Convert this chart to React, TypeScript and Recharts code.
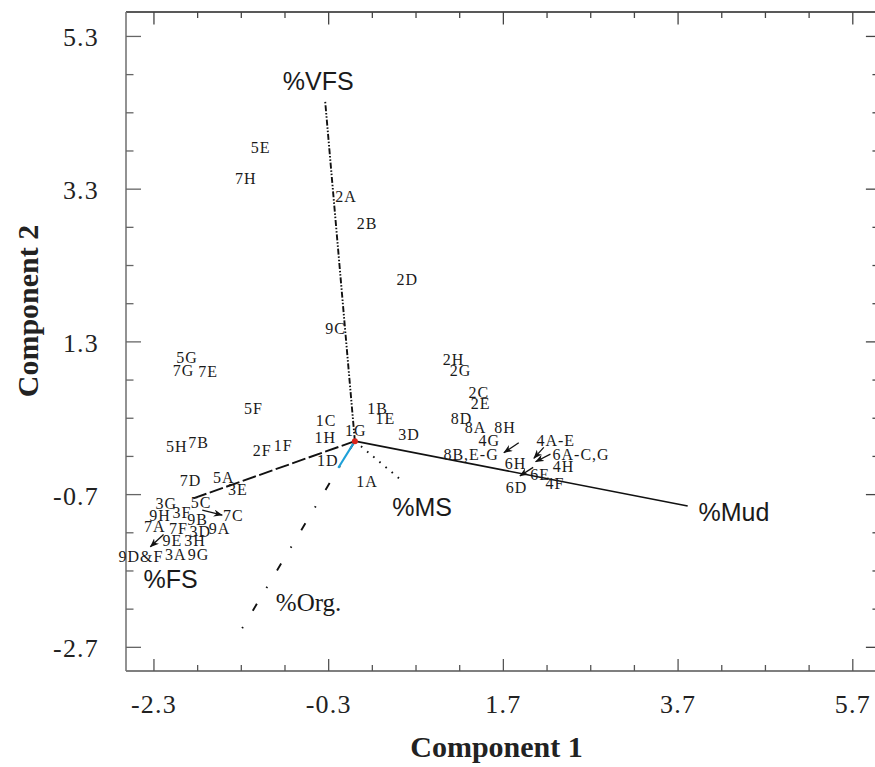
import React from 'react';
import { ScatterChart, Scatter, XAxis, YAxis, ReferenceLine } from 'recharts';

// ---------- axis ticks ----------
const X_TICKS = [-2.3, -1.8, -1.3, -0.8, -0.3, 0.2, 0.7, 1.2, 1.7, 2.2, 2.7, 3.2, 3.7, 4.2, 4.7, 5.2, 5.7];
const X_MAJOR = [-2.3, -0.3, 1.7, 3.7, 5.7];
const Y_TICKS = [-2.7, -2.2, -1.7, -1.2, -0.7, -0.2, 0.3, 0.8, 1.3, 1.8, 2.3, 2.8, 3.3, 3.8, 4.3, 4.8, 5.3];
const Y_MAJOR = [-2.7, -0.7, 1.3, 3.3, 5.3];
const X_DOMAIN = [-2.62, 6.0];
const Y_DOMAIN = [-3.01, 5.62];

// ---------- sample scores (labels) ----------
const SITE_1 = [
  { label: '1A', x: 0.14, y: -0.53 },
  { label: '1B', x: 0.26, y: 0.43 },
  { label: '1C', x: -0.33, y: 0.27 },
  { label: '1D', x: -0.31, y: -0.25 },
  { label: '1E', x: 0.35, y: 0.29 },
  { label: '1F', x: -0.82, y: -0.06 },
  { label: '1G', x: 0.01, y: 0.14 },
  { label: '1H', x: -0.34, y: 0.05 },
];
const SITE_2 = [
  { label: '2A', x: -0.1, y: 3.2 },
  { label: '2B', x: 0.14, y: 2.85 },
  { label: '2C', x: 1.42, y: 0.63 },
  { label: '2D', x: 0.6, y: 2.11 },
  { label: '2E', x: 1.44, y: 0.49 },
  { label: '2F', x: -1.06, y: -0.12 },
  { label: '2G', x: 1.21, y: 0.93 },
  { label: '2H', x: 1.13, y: 1.07 },
];
const SITE_3 = [
  { label: '3A', x: -2.05, y: -1.49 },
  { label: '3D', x: 0.62, y: 0.09 },
  { label: '3D', x: -1.77, y: -1.18 },
  { label: '3E', x: -1.34, y: -0.63 },
  { label: '3F', x: -1.98, y: -0.93 },
  { label: '3G', x: -2.16, y: -0.82 },
  { label: '3H', x: -1.83, y: -1.3 },
];
const SITE_4 = [
  { label: '4A-E', x: 2.3, y: 0.01 },
  { label: '4F', x: 2.29, y: -0.56 },
  { label: '4G', x: 1.54, y: 0.01 },
  { label: '4H', x: 2.39, y: -0.33 },
];
const SITE_5 = [
  { label: '5A', x: -1.5, y: -0.48 },
  { label: '5C', x: -1.76, y: -0.81 },
  { label: '5E', x: -1.08, y: 3.85 },
  { label: '5F', x: -1.16, y: 0.42 },
  { label: '5G', x: -1.92, y: 1.09 },
  { label: '5H', x: -2.04, y: -0.07 },
];
const SITE_6 = [
  { label: '6A-C,G', x: 2.59, y: -0.18 },
  { label: '6D', x: 1.85, y: -0.61 },
  { label: '6E', x: 2.12, y: -0.44 },
  { label: '6H', x: 1.84, y: -0.3 },
];
const SITE_7 = [
  { label: '7A', x: -2.29, y: -1.12 },
  { label: '7B', x: -1.79, y: -0.02 },
  { label: '7C', x: -1.39, y: -0.98 },
  { label: '7D', x: -1.88, y: -0.52 },
  { label: '7E', x: -1.68, y: 0.91 },
  { label: '7F', x: -2.02, y: -1.14 },
  { label: '7G', x: -1.96, y: 0.92 },
  { label: '7H', x: -1.25, y: 3.44 },
];
const SITE_8 = [
  { label: '8A', x: 1.38, y: 0.18 },
  { label: '8B,E-G', x: 1.33, y: -0.17 },
  { label: '8D', x: 1.22, y: 0.3 },
  { label: '8H', x: 1.72, y: 0.18 },
];
const SITE_9 = [
  { label: '9A', x: -1.55, y: -1.14 },
  { label: '9B', x: -1.8, y: -1.03 },
  { label: '9C', x: -0.22, y: 1.47 },
  { label: '9D&F', x: -2.45, y: -1.51 },
  { label: '9E', x: -2.09, y: -1.3 },
  { label: '9G', x: -1.79, y: -1.48 },
  { label: '9H', x: -2.23, y: -0.97 },
];
const SITES = [SITE_1, SITE_2, SITE_3, SITE_4, SITE_5, SITE_6, SITE_7, SITE_8, SITE_9];

// ---------- variable loadings (vectors) ----------
const VECTOR_NAMES = ['%VFS', '%Mud', '%MS', '%FS', '%Org.'];
const VECTOR_X = [-0.34, 3.81, 0.52, -1.85, -1.29];
const VECTOR_Y = [4.45, -0.85, -0.5, -0.75, -2.45];
const VECTOR_LABEL_X = [-0.42, 4.34, 0.77, -2.11, -0.53];
const VECTOR_LABEL_Y = [4.71, -0.93, -0.86, -1.8, -2.11];
const BLUE_VECTOR = [{ x: 0, y: 0 }, { x: -0.19, y: -0.35 }];
const ORIGIN = [{ x: 0, y: 0 }];

// ---------- label arrows (tail -> tip) ----------
const ARROWS = [
  [{ x: 1.876, y: -0.021 }, { x: 1.705, y: -0.152 }],
  [{ x: 2.163, y: -0.081 }, { x: 2.048, y: -0.226 }],
  [{ x: 2.239, y: -0.169 }, { x: 2.068, y: -0.27 }],
  [{ x: 2.041, y: -0.343 }, { x: 1.888, y: -0.457 }],
  [{ x: -1.747, y: -0.903 }, { x: -1.518, y: -0.969 }],
  [{ x: -2.19, y: -1.222 }, { x: -2.342, y: -1.384 }],
];

// ---------- styles ----------
const VECTOR_STYLE: Record<string, any> = {
  '%VFS': { stroke: '#111', strokeWidth: 1.9, strokeDasharray: '6 1.8 1.5 1.8 1.5 1.8' },
  '%Mud': { stroke: '#111', strokeWidth: 1.6 },
  '%MS': { stroke: '#111', strokeWidth: 1.9, strokeDasharray: '1.6 6.4' },
  '%FS': { stroke: '#111', strokeWidth: 1.9, strokeDasharray: '14 3.5' },
  '%Org.': { stroke: '#111', strokeWidth: 1.9, strokeDasharray: '1.5 19 8 18.5' },
};
const VECTOR_FONT: Record<string, string> = {
  '%VFS': "'Liberation Sans', Arial, sans-serif",
  '%Mud': "'Liberation Sans', Arial, sans-serif",
  '%MS': "'Liberation Sans', Arial, sans-serif",
  '%FS': "'Liberation Sans', Arial, sans-serif",
  '%Org.': "'Liberation Serif', 'Times New Roman', serif",
};
const SERIF = "'Liberation Serif', 'Times New Roman', serif";
// inward length of the right-hand ticks, in data units of the x axis
const RIGHT_TICK_MAJOR = 0.15;
const RIGHT_TICK_MINOR = 0.075;

const isIn = (arr: number[], v: number) => arr.some((a) => Math.abs(a - v) < 1e-6);

const BottomTick = (props: any) => {
  const { x, y, payload } = props;
  const major = isIn(X_MAJOR, payload.value);
  return (
    <g>
      <line x1={x} y1={y} x2={x} y2={y - (major ? 12 : 6)} stroke="#555" strokeWidth={1.3} />
      {major && (
        <text x={x} y={y + 42} textAnchor="middle" fontFamily={SERIF} fontSize={26} letterSpacing={1.2} fill="#222">
          {payload.value.toFixed(1)}
        </text>
      )}
    </g>
  );
};
const TopTick = (props: any) => {
  const { x, y, payload } = props;
  const major = isIn(X_MAJOR, payload.value);
  return <line x1={x} y1={y} x2={x} y2={y + (major ? 12.5 : 6)} stroke="#444" strokeWidth={1.3} />;
};
const LeftTick = (props: any) => {
  const { x, y, payload } = props;
  const major = isIn(Y_MAJOR, payload.value);
  return (
    <g>
      <line x1={x} y1={y} x2={x + (major ? 15 : 7.5)} y2={y} stroke="#666" strokeWidth={1.3} />
      {major && (
        <text x={x - 27} y={y + 10} textAnchor="end" fontFamily={SERIF} fontSize={26} letterSpacing={1.2} fill="#222">
          {payload.value.toFixed(1)}
        </text>
      )}
    </g>
  );
};

const SampleLabel = (props: any) => {
  const { cx, cy, payload } = props;
  return (
    <text x={cx} y={cy + 5.4} textAnchor="middle" fontFamily={SERIF} fontSize={16} letterSpacing={1} fill="#1a1a1a">
      {payload.label}
    </text>
  );
};
const VectorLabel = (props: any) => {
  const { cx, cy, payload } = props;
  return (
    <text x={cx} y={cy + 9} textAnchor="middle" fontFamily={VECTOR_FONT[payload.label]} fontSize={25} fill="#1a1a1a">
      {payload.label}
    </text>
  );
};
const NoShape = () => <g />;
const RedDot = (props: any) => <circle cx={props.cx} cy={props.cy} r={3} fill="#d9261c" />;

const vectorSeries = VECTOR_NAMES.map((name, i) => ({
  name,
  data: name === '%Org.'
    ? [{ x: VECTOR_X[i], y: VECTOR_Y[i] }, { x: 0, y: 0 }]
    : [{ x: 0, y: 0 }, { x: VECTOR_X[i], y: VECTOR_Y[i] }],
}));
const vectorLabels = VECTOR_NAMES.map((name, i) => ({ label: name, x: VECTOR_LABEL_X[i], y: VECTOR_LABEL_Y[i] }));

export default function App() {
  return (
    <div style={{ position: 'absolute', left: 0, top: 0, width: 875, height: 767, overflow: 'hidden', background: '#fff' }}>
      <svg width={0} height={0} style={{ position: 'absolute' }}>
        <defs>
          <marker id="barb" viewBox="0 0 10 8" refX="9.5" refY="4" markerWidth="9" markerHeight="7.5" markerUnits="userSpaceOnUse" orient="auto">
            <path d="M0,0 L10,4 L0,8 L3,4 z" fill="#111" />
          </marker>
        </defs>
      </svg>
      <ScatterChart width={885} height={767} margin={{ top: 11, right: 6, bottom: 95, left: 125 }}>
        <XAxis
          xAxisId="b" type="number" dataKey="x" domain={X_DOMAIN} ticks={X_TICKS} interval={0}
          height={1} tickSize={0} tickMargin={0} tickLine={false}
          tick={<BottomTick />} axisLine={{ stroke: '#555', strokeWidth: 1.5 }}
          label={{
            content: (p: any) => {
              const vb = p.viewBox || { x: 126, width: 753 };
              return (
                <text x={vb.x + vb.width / 2 - 6} y={757} textAnchor="middle" fontFamily={SERIF} fontWeight="bold" fontSize={30} fill="#222">
                  Component 1
                </text>
              );
            },
          }}
        />
        <XAxis
          xAxisId="t" orientation="top" type="number" dataKey="x" domain={X_DOMAIN} ticks={X_TICKS} interval={0}
          height={1} tickSize={0} tickMargin={0} tickLine={false}
          tick={<TopTick />} axisLine={{ stroke: '#222', strokeWidth: 1.5 }}
        />
        <YAxis
          yAxisId="l" type="number" dataKey="y" domain={Y_DOMAIN} ticks={Y_TICKS} interval={0}
          width={1} tickSize={0} tickMargin={0} tickLine={false}
          tick={<LeftTick />} axisLine={{ stroke: '#777', strokeWidth: 1.6 }}
          label={{
            content: () => (
              <text x={37.5} y={311} transform="rotate(-90, 37.5, 311)" textAnchor="middle" fontFamily={SERIF} fontWeight="bold" fontSize={30} fill="#222">
                Component 2
              </text>
            ),
          }}
        />

        {Y_TICKS.map((t) => (
          <ReferenceLine
            key={'rt' + t} xAxisId="b" yAxisId="l" ifOverflow="visible"
            segment={[{ x: X_DOMAIN[1], y: t }, { x: X_DOMAIN[1] - (isIn(Y_MAJOR, t) ? RIGHT_TICK_MAJOR : RIGHT_TICK_MINOR), y: t }]}
            stroke="#444" strokeWidth={1.3}
          />
        ))}

        <Scatter xAxisId="t" yAxisId="l" data={ORIGIN} shape={NoShape} isAnimationActive={false} />

        {vectorSeries.map((v) => (
          <Scatter
            key={v.name} xAxisId="b" yAxisId="l" data={v.data} shape={NoShape}
            line={{ ...VECTOR_STYLE[v.name], fill: 'none' }} isAnimationActive={false}
          />
        ))}
        <Scatter xAxisId="b" yAxisId="l" data={BLUE_VECTOR} shape={NoShape}
          line={{ stroke: '#1ea0d8', strokeWidth: 2 }} isAnimationActive={false} />
        {ARROWS.map((a, i) => (
          <Scatter key={'arr' + i} xAxisId="b" yAxisId="l" data={a} shape={NoShape}
            line={{ stroke: '#111', strokeWidth: 1.3, markerEnd: 'url(#barb)' }} isAnimationActive={false} />
        ))}
        <Scatter xAxisId="b" yAxisId="l" data={ORIGIN} shape={RedDot} isAnimationActive={false} />

        {SITES.map((s, i) => (
          <Scatter key={'site' + i} xAxisId="b" yAxisId="l" data={s} shape={SampleLabel} isAnimationActive={false} />
        ))}
        <Scatter xAxisId="b" yAxisId="l" data={vectorLabels} shape={VectorLabel} isAnimationActive={false} />
      </ScatterChart>
    </div>
  );
}
